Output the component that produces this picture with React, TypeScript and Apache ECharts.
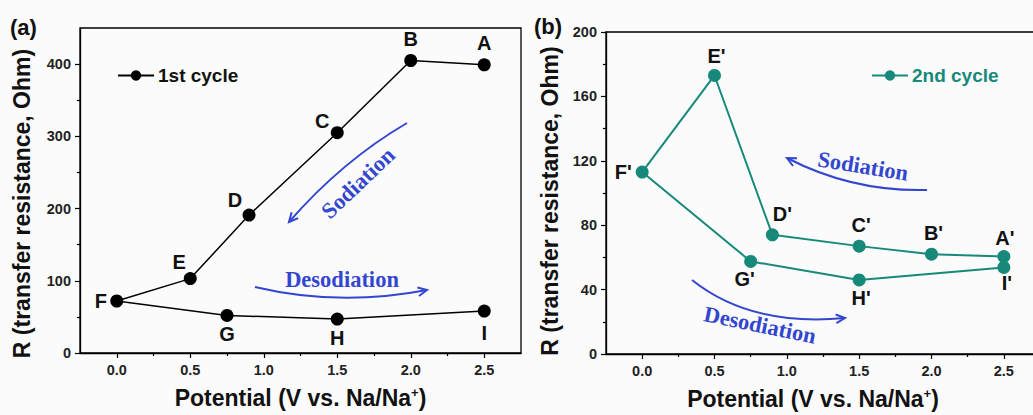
import React, { useEffect, useRef } from 'react';
import * as echarts from 'echarts';

// ---- data ----
const potential1 = [2.5, 2.0, 1.5, 0.9, 0.5, 0.0, 0.75, 1.5, 2.5];
const resistance1 = [399, 405, 305, 191, 103, 72, 52, 47, 58];
const labels1 = ['A', 'B', 'C', 'D', 'E', 'F', 'G', 'H', 'I'];

const potential2 = [2.5, 2.0, 1.5, 0.9, 0.5, 0.0, 0.75, 1.5, 2.5];
const resistance2 = [60.5, 62, 67, 74, 173, 113, 57.5, 46, 53.8];
const labels2 = ["A'", "B'", "C'", "D'", "E'", "F'", "G'", "H'", "I'"];

const xMajorTicks = [0, 0.5, 1.0, 1.5, 2.0, 2.5];
const xMinorTicks = [0.25, 0.75, 1.25, 1.75, 2.25];
const yMajor1 = [0, 100, 200, 300, 400];
const yMinor1 = [50, 150, 250, 350];
const yMajor2 = [0, 40, 80, 120, 160, 200];
const yMinor2 = [20, 60, 100, 140, 180];

const seriesNames = ['1st cycle', '2nd cycle'];
const xTitle = 'Potential (V vs. Na/Na{sup|+})';
const yTitle = 'R (transfer resistance, Ohm)';

// ---- styles ----
const SANS = 'Liberation Sans, Arial, sans-serif';
const SERIF = 'Liberation Serif, Times New Roman, serif';
const TEAL = '#16897b';
const BLUE = '#3346cf';
const INK = '#111';

const labelOffsets: Record<string, number[]> = {
  A: [0, -22], B: [0, -22], C: [-15, -12], D: [-14, -15], E: [-11, -17],
  F: [-16, 0], G: [0, 19], H: [0, 19], I: [0, 22],
  "A'": [1, -19], "B'": [2, -21], "C'": [2, -21], "D'": [10, -21], "E'": [2, -19],
  "F'": [-19, 0], "G'": [-6, 18], "H'": [2, 18], "I'": [3, 16],
};

function axisPair(gridIndex: number, min: number, max: number, major: number[], minor: number[], isX: boolean, nameGap: number, namePad: number[]) {
  const main: any = {
    type: 'value', gridIndex, min, max,
    position: isX ? 'bottom' : 'left',
    name: isX ? xTitle : yTitle,
    nameLocation: 'middle', nameGap,
    nameTextStyle: {
      fontFamily: SANS, fontSize: 23, fontWeight: 'bold', color: INK, padding: namePad,
      rich: { sup: { fontFamily: SANS, fontSize: 13, fontWeight: 'bold', color: INK, verticalAlign: 'top', lineHeight: 14 } },
    },
    axisLine: { show: true, onZero: false, lineStyle: { color: '#000', width: 1.3 } },
    axisTick: { show: true, length: 5, customValues: major, lineStyle: { color: '#000', width: 1.2 } },
    axisLabel: { show: true, customValues: major, margin: 9, fontFamily: SANS, fontSize: 14.5, fontWeight: 'bold', color: '#222',
      formatter: (v: number) => (isX ? v.toFixed(1) : String(v)) },
    splitLine: { show: false },
  };
  const sub: any = {
    type: 'value', gridIndex, min, max,
    position: isX ? 'bottom' : 'left',
    axisLine: { show: false, onZero: false },
    axisTick: { show: true, length: 3, customValues: minor, lineStyle: { color: '#000', width: 1.2 } },
    axisLabel: { show: false },
    splitLine: { show: false },
  };
  return [main, sub];
}

function makeData(xs: number[], ys: number[], labels: string[]) {
  return xs.map((x, i) => ({
    value: [x, ys[i]],
    name: labels[i],
    label: { offset: labelOffsets[labels[i]] },
  }));
}

function arrow(sx: number, sy: number, cx: number, cy: number, ex: number, ey: number) {
  const dx = ex - cx, dy = ey - cy;
  const len = Math.sqrt(dx * dx + dy * dy);
  const ux = dx / len, uy = dy / len;
  const size = 10, spread = 0.45;
  const p1 = [ex - size * (ux * Math.cos(spread) - uy * Math.sin(spread)), ey - size * (uy * Math.cos(spread) + ux * Math.sin(spread))];
  const p2 = [ex - size * (ux * Math.cos(-spread) - uy * Math.sin(-spread)), ey - size * (uy * Math.cos(-spread) + ux * Math.sin(-spread))];
  return [
    { type: 'bezierCurve', shape: { x1: sx, y1: sy, cpx1: cx, cpy1: cy, x2: ex, y2: ey }, style: { stroke: BLUE, lineWidth: 2, fill: 'none' } },
    { type: 'polyline', shape: { points: [p1, [ex, ey], p2] }, style: { stroke: BLUE, lineWidth: 2, fill: 'none' } },
  ];
}

function note(text: string, x: number, y: number, rotation: number) {
  return { type: 'text', x, y, rotation, style: { text, fontFamily: SERIF, fontSize: 22.5, fontWeight: 'bold', fill: BLUE, align: 'center', verticalAlign: 'middle' } };
}

export default function App() {
  const ref = useRef<HTMLDivElement>(null);
  useEffect(() => {
    if (!ref.current) return;
    const chart = echarts.init(ref.current, null, { renderer: 'svg' });
    const [x0, x0m] = axisPair(0, -0.25, 2.75, xMajorTicks, xMinorTicks, true, 33, [0, 0, 0, 0]);
    const [y0, y0m] = axisPair(0, 0, 450, yMajor1, yMinor1, false, 47, [0, 26, 0, 0]);
    const [x1, x1m] = axisPair(1, -0.25, 2.75, xMajorTicks, xMinorTicks, true, 33, [0, 20, 0, 0]);
    const [y1, y1m] = axisPair(1, 0, 200, yMajor2, yMinor2, false, 45, [0, 16, 0, 0]);

    const labelStyle = { show: true, position: 'inside', formatter: '{b}', fontFamily: SANS, fontSize: 20, fontWeight: 'bold', color: INK };

    chart.setOption({
      animation: false,
      backgroundColor: '#fbfbfb',
      grid: [
        { left: 80, top: 28, width: 441, height: 325, show: true, borderColor: '#000', borderWidth: 1.3, backgroundColor: 'transparent' },
        { left: 606, top: 32, width: 434, height: 322, show: true, borderColor: '#000', borderWidth: 1.3, backgroundColor: 'transparent' },
      ],
      xAxis: [x0, x0m, x1, x1m],
      yAxis: [y0, y0m, y1, y1m],
      legend: [
        { data: [seriesNames[0]], left: 112, top: 61, itemWidth: 36, itemHeight: 13, itemGap: 4,
          textStyle: { fontFamily: SANS, fontSize: 19, fontWeight: 'bold', color: INK, padding: [0, 0, 0, -1] } },
        { data: [seriesNames[1]], left: 866, top: 61, itemWidth: 36, itemHeight: 13, itemGap: 4,
          textStyle: { fontFamily: SANS, fontSize: 19, fontWeight: 'bold', color: TEAL, padding: [0, 0, 0, -1] } },
      ],
      series: [
        { name: seriesNames[0], type: 'line', xAxisIndex: 0, yAxisIndex: 0, data: makeData(potential1, resistance1, labels1),
          symbol: 'circle', symbolSize: 13, itemStyle: { color: '#000' }, lineStyle: { color: '#000', width: 1.5 }, label: labelStyle },
        { name: seriesNames[1], type: 'line', xAxisIndex: 2, yAxisIndex: 2, data: makeData(potential2, resistance2, labels2),
          symbol: 'circle', symbolSize: 13, itemStyle: { color: TEAL }, lineStyle: { color: TEAL, width: 2 }, label: labelStyle },
      ],
      graphic: [
        { type: 'text', x: 10, y: 27, style: { text: '(a)', fontFamily: SANS, fontSize: 22, fontWeight: 'bold', fill: INK, verticalAlign: 'middle' } },
        { type: 'text', x: 534, y: 26, style: { text: '(b)', fontFamily: SANS, fontSize: 22, fontWeight: 'bold', fill: INK, verticalAlign: 'middle' } },
        ...arrow(407, 123, 342, 161, 289, 222),
        note('Sodiation', 358, 183, 0.76),
        ...arrow(255, 287, 339, 307, 427, 290),
        note('Desodiation', 342, 279, 0),
        ...arrow(927, 190, 853, 192, 787, 158),
        note('Sodiation', 863, 166, -0.16),
        ...arrow(692, 280, 751, 327, 845, 318),
        note('Desodiation', 760, 325, -0.2),
      ],
    });
    return () => chart.dispose();
  }, []);
  return (
    <div style={{ position: 'absolute', left: 0, top: 0, width: 1033, height: 415, overflow: 'hidden' }}>
      <div ref={ref} style={{ width: 1048, height: 415 }} />
    </div>
  );
}
